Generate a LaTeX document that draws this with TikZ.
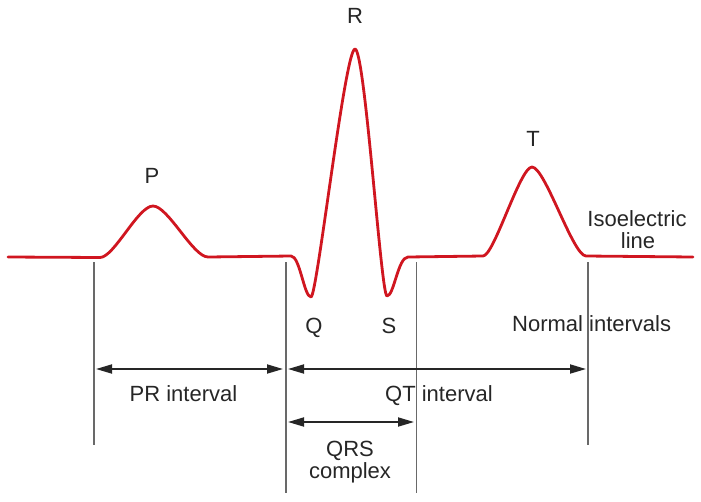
\documentclass[tikz,border=0pt]{standalone}
\usepackage{fontspec}
\setmainfont{Liberation Sans}
\usetikzlibrary{arrows.meta}
\definecolor{ecgred}{RGB}{208,22,32}
\definecolor{guide}{RGB}{105,105,105}
\tikzset{
  wave/.style={draw=ecgred, line width=2.8pt, line join=round, line cap=round},
  guideline/.style={draw=guide, line width=1.1pt},
  span/.style={draw=black!85, line width=1.8pt, {Triangle[length=16pt,width=9pt]}-{Triangle[length=16pt,width=9pt]}},
  lbl/.style={inner sep=0pt, font=\fontsize{22}{26}\selectfont, text=black!85}
}
\begin{document}
\begin{tikzpicture}[x=1pt,y=-1pt]
\useasboundingbox (0,0) rectangle (701,501);
% ECG trace points
\coordinate (start) at (8,257);
\coordinate (pon) at (100,257.5);
\coordinate (ppk) at (153,206);
\coordinate (poff) at (208,257);
\coordinate (qon) at (291,256);
\coordinate (qpk) at (311,297);
\coordinate (rpk) at (355,49);
\coordinate (spk) at (387,296);
\coordinate (soff) at (408,257);
\coordinate (ton) at (483,256);
\coordinate (tpk) at (532,167);
\coordinate (toff) at (586,256);
\coordinate (finish) at (693,257);
\path[wave] (start) -- (pon)
  .. controls (114,257.5) and (138,206) .. (ppk)
  .. controls (168,206) and (193,257) .. (poff)
  -- (qon)
  .. controls (300,256) and (304,297) .. (qpk)
  .. controls (317,297) and (345,49) .. (rpk)
  .. controls (365,49) and (381,296) .. (spk)
  .. controls (394,296) and (398,257) .. (soff)
  -- (ton)
  .. controls (494,256) and (520,167) .. (tpk)
  .. controls (545,167) and (573,256) .. (toff)
  -- (finish);
% guide lines
\coordinate (g1t) at (94,262);  \coordinate (g1b) at (94,445);
\coordinate (g2t) at (286,262); \coordinate (g2b) at (286,493);
\coordinate (g3t) at (416.5,262); \coordinate (g3b) at (416.5,493);
\coordinate (g4t) at (588,262); \coordinate (g4b) at (588,445);
\path[guideline] (g1t) -- (g1b);
\path[guideline] (g2t) -- (g2b);
\path[guideline] (g3t) -- (g3b);
\path[guideline] (g4t) -- (g4b);
% interval arrows
\coordinate (pra) at (96,369);  \coordinate (prb) at (283,369);
\coordinate (qta) at (288,369); \coordinate (qtb) at (586,369);
\coordinate (qrsa) at (288,422); \coordinate (qrsb) at (414,422);
\path[span] (pra) -- (prb);
\path[span] (qta) -- (qtb);
\path[span] (qrsa) -- (qrsb);
% labels
\node[lbl, anchor=base] (lR) at (355,23) {R};
\node[lbl, anchor=base] (lP) at (152,183) {P};
\node[lbl, anchor=base] (lT) at (533,146) {T};
\node[lbl, anchor=base] (lQ) at (314,333) {Q};
\node[lbl, anchor=base] (lS) at (389,333) {S};
\node[lbl, anchor=base] (liso) at (637,226) {Isoelectric};
\node[lbl, anchor=base] (lline) at (638,248) {line};
\node[lbl, anchor=base west] (lnorm) at (512,331) {Normal intervals};
\node[lbl, anchor=base] (lpr) at (183.5,401) {PR interval};
\node[lbl, anchor=base west] (lqt) at (385,401) {QT interval};
\node[lbl, anchor=base] (lqrs) at (350,456) {QRS};
\node[lbl, anchor=base] (lcx) at (350,478) {complex};
\end{tikzpicture}
\end{document}
